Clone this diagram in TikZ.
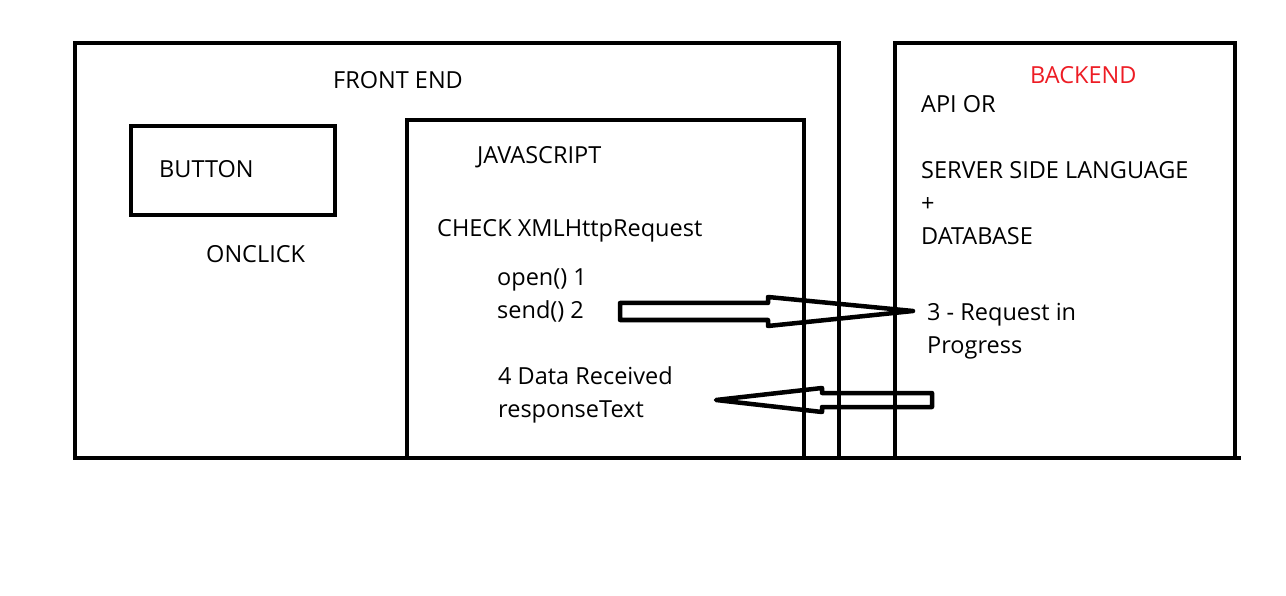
\documentclass[tikz,border=0pt]{standalone}
\usepackage{fontspec}
\setmainfont{Open Sans}
\usepackage{xcolor}
\usetikzlibrary{calc}
\definecolor{sketchInk}{HTML}{000000}
\definecolor{sketchRed}{HTML}{ED1C24}

\begin{document}
\begin{tikzpicture}[
  x=1pt,y=-1pt,
  font=\fontsize{23.5}{33}\selectfont,
  box/.style={draw=sketchInk,line width=4.5pt},
  txt/.style={anchor=west,inner sep=0pt,align=left,text=sketchInk},
  hollow/.style={draw=sketchInk,line width=4.5pt,line join=round}
]
\useasboundingbox (0,0) rectangle (1286,596);

% Boxes
\draw[box] (75,458) -- (75,43) -- (839,43) -- (839,458);
\draw[box] (131,126) rectangle (335,215);
\draw[box] (407,458) -- (407,120) -- (804,120) -- (804,458);
\draw[box] (895,458) -- (895,43) -- (1235,43) -- (1235,458);
\draw[box] (73,458) -- (1241,458);

% Front end
\node[txt] (front)  at (333,80)  {FRONT END};
\node[txt] (button) at (159,169) {BUTTON};
\node[txt] (click)  at (206,254) {ONCLICK};

% Javascript
\node[txt] (js)    at (477,157) {JAVASCRIPT};
\node[txt] (check) at (437,231) {CHECK XMLHttpRequest};
\node[txt] (send)  at (497,295.5) {open() 1\\send() 2};
\node[txt] (recv)  at (498,394.5) {4 Data Received\\responseText};

% Backend
\node[txt,text=sketchRed] (back) at (1030,75) {BACKEND};
\node[txt] (api)    at (921,104) {API OR};
\node[txt] (server) at (921,203) {SERVER SIDE LANGUAGE\\+\\DATABASE};
\node[txt] (prog)   at (927,331.5) {3 - Request in\\Progress};

% Arrows
\coordinate (reqtail) at (620,311);
\coordinate (reqtip)  at (913,311);
\coordinate (restail) at (932,400);
\coordinate (restip)  at (716,400);
\draw[hollow] ($(reqtail)+(0,-8)$) -- ($(reqtail)+(148,-8)$) -- ($(reqtail)+(148,-14)$)
  -- (reqtip) -- ($(reqtail)+(148,15)$) -- ($(reqtail)+(148,9)$) -- ($(reqtail)+(0,9)$) -- cycle;
\draw[hollow] ($(restail)+(0,-7)$) -- ($(restail)+(-110,-7)$) -- ($(restail)+(-110,-12)$)
  -- (restip) -- ($(restail)+(-110,12)$) -- ($(restail)+(-110,7)$) -- ($(restail)+(0,7)$) -- cycle;
\end{tikzpicture}
\end{document}
